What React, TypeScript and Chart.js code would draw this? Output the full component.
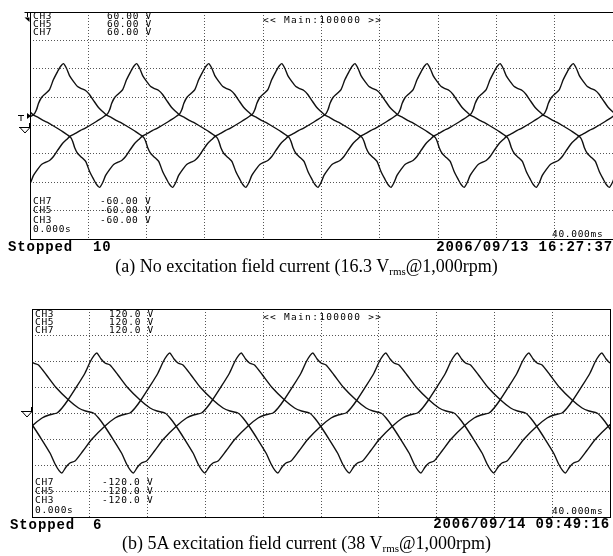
import React, { useEffect, useRef } from "react";
import { Chart, registerables } from "chart.js";
Chart.register(...registerables);

// ---------- Panel (a): no excitation field current ----------
const channelNames = ["CH3", "CH5", "CH7"];
const periodA = 14.98; // ms
const peakTimesA = [2.3, 7.32, 12.27]; // ms, first positive peak of each channel
// one positive half-cycle, relative to the peak (ms, V); negative half is the mirror
const shapeTimeA = [-3.22, -2.88, -2.54, -2.2, -1.99, -1.85, -1.72, -1.51, -1.23, -0.96, -0.69, -0.41, -0.21, 0, 0.21, 0.41, 0.69, 0.96, 1.23, 1.51, 1.78, 2.06, 2.4, 2.68, 2.95, 3.29, 3.64, 3.91, 4.27];
const shapeVoltA = [0, 1.6, 3.2, 5.0, 6.3, 8.4, 11.6, 14.8, 16.9, 19.0, 24.3, 28.5, 31.2, 32.7, 30.1, 26.4, 23.2, 20.6, 19.5, 18.5, 16.4, 13.2, 9.5, 7.4, 5.5, 4.2, 2.6, 1.6, 0];
const voltRangeA = 60;

// ---------- Panel (b): 5A excitation field current ----------
const periodB = 14.95;
const peakTimesB = [4.5, 9.55, 14.5];
const shapeTimeB = [-2.77, -2.42, -2.01, -1.38, -0.83, -0.48, -0.2, 0, 0.28, 0.55, 0.9, 1.45, 2.08, 2.98, 3.67, 4.15, 4.7];
const shapeVoltB = [0, 5.8, 15, 31.2, 46.2, 58.8, 66.5, 69.2, 62.3, 57.7, 55.4, 43.8, 30, 15, 5.8, 2.3, 0];
const voltRangeB = 120;

const timeMax = 40; // ms, 10 divisions of 4 ms

type Pt = { x: number; y: number };

function buildChannel(peak: number, period: number, times: number[], volts: number[]): Pt[] {
  const pts: Pt[] = [];
  const half = period / 2;
  for (let k = -4; k <= 4; k++) {
    const base = peak + k * period;
    for (let i = 0; i < times.length; i++) pts.push({ x: base + times[i], y: volts[i] });
    for (let i = 1; i < times.length - 1; i++) pts.push({ x: base + half + times[i], y: -volts[i] });
  }
  pts.sort((a, b) => a.x - b.x);
  return pts.filter((p) => p.x >= -2 && p.x <= timeMax + 2);
}

const boxPlugin = {
  id: "box",
  afterDraw(chart: any) {
    const { ctx, chartArea } = chart;
    ctx.save();
    ctx.strokeStyle = "#000";
    ctx.lineWidth = 1;
    ctx.strokeRect(
      Math.round(chartArea.left) + 0.5,
      Math.round(chartArea.top) + 0.5,
      Math.round(chartArea.right - chartArea.left),
      Math.round(chartArea.bottom - chartArea.top)
    );
    ctx.restore();
  },
};

function Scope(props: {
  width: number;
  height: number;
  top: number;
  padding: { left: number; top: number; right: number; bottom: number };
  period: number;
  peaks: number[];
  times: number[];
  volts: number[];
  range: number;
}) {
  const ref = useRef<HTMLCanvasElement>(null);
  useEffect(() => {
    if (!ref.current) return;
    const datasets = props.peaks.map((p, i) => ({
      label: channelNames[i],
      data: buildChannel(p, props.period, props.times, props.volts),
      borderColor: "#111",
      borderWidth: 1.4,
      pointRadius: 0,
      tension: 0.2,
      fill: false,
    }));
    const grid = { color: "#555", lineWidth: 1, drawTicks: false, tickLength: 0 };
    const chart = new Chart(ref.current, {
      type: "line",
      data: { datasets },
      options: {
        animation: false,
        responsive: false,
        events: [],
        layout: { padding: props.padding },
        plugins: { legend: { display: false }, tooltip: { enabled: false } },
        scales: {
          x: {
            type: "linear",
            min: 0,
            max: timeMax,
            ticks: { display: false, stepSize: 4 },
            grid,
            border: { display: false, dash: [1, 2] },
          },
          y: {
            type: "linear",
            min: -props.range,
            max: props.range,
            ticks: { display: false, stepSize: props.range / 4 },
            grid,
            border: { display: false, dash: [1, 2] },
          },
        },
      } as any,
      plugins: [boxPlugin],
    });
    return () => chart.destroy();
  }, []);
  return (
    <canvas
      ref={ref}
      width={props.width}
      height={props.height}
      style={{ position: "absolute", left: 0, top: props.top, width: props.width, height: props.height }}
    />
  );
}

const mono: React.CSSProperties = {
  fontFamily: '"DejaVu Sans Mono", monospace',
  fontSize: 9.5,
  letterSpacing: "0.7px",
  lineHeight: "8px",
  color: "#000",
  whiteSpace: "pre",
};
const monoWide: React.CSSProperties = { ...mono, letterSpacing: "1.3px" };
const bold: React.CSSProperties = {
  fontFamily: '"Liberation Mono", "DejaVu Sans Mono", monospace',
  fontWeight: "bold",
  fontSize: 14,
  letterSpacing: "0.9px",
  lineHeight: "14px",
  color: "#000",
  whiteSpace: "pre",
};

function L(p: { x: number; y: number; t: string; s?: React.CSSProperties; right?: boolean }) {
  const st = p.s || mono;
  const lh = parseFloat(String(st.lineHeight));
  const pos: React.CSSProperties = p.right
    ? { position: "absolute", right: 613 - p.x, top: p.y - lh / 2 }
    : { position: "absolute", left: p.x, top: p.y - lh / 2 };
  return <div style={{ ...st, ...pos }}>{p.t}</div>;
}

function Caption(p: { y: number; children: React.ReactNode }) {
  return (
    <div
      style={{
        position: "absolute",
        left: 0,
        width: 613,
        top: p.y - 11,
        textAlign: "center",
        fontFamily: '"Liberation Serif", "Times New Roman", serif',
        fontSize: 18,
        lineHeight: "22px",
        color: "#000",
        whiteSpace: "nowrap",
      }}
    >
      {p.children}
    </div>
  );
}

const sub: React.CSSProperties = { fontSize: 11, verticalAlign: "-3px", lineHeight: 0 };

export default function App() {
  return (
    <div style={{ position: "absolute", left: 0, top: 0, width: 613, height: 556, overflow: "hidden", background: "#fff" }}>
      <Scope
        width={613}
        height={250}
        top={0}
        padding={{ left: 30, top: 12, right: 0, bottom: 11 }}
        period={periodA}
        peaks={peakTimesA}
        times={shapeTimeA}
        volts={shapeVoltA}
        range={voltRangeA}
      />
      <Scope
        width={613}
        height={250}
        top={280}
        padding={{ left: 32, top: 29, right: 3, bottom: 13 }}
        period={periodB}
        peaks={peakTimesB}
        times={shapeTimeB}
        volts={shapeVoltB}
        range={voltRangeB}
      />
      <svg width={613} height={556} style={{ position: "absolute", left: 0, top: 0 }}>
        <g stroke="#000" strokeWidth={1} fill="none">
          <path d="M24.5 12.5 H30 M27.5 12.5 V17" />
          <path d="M18 115.5 H24 M21 115.5 V121" />
          <path d="M19 127.5 H30 M29.5 123 V128 M20 127.5 L25 133 L30 127.5" />
          <path d="M21 411.5 H32 M31.5 407 V412 M22 411.5 L27 417 L32 411.5" />
        </g>
        <g fill="#000">
          <path d="M24.5 17.5 L29.5 17.5 L29.5 22 Z" />
          <path d="M27 113 L27 119 L31 116 Z" />
        </g>
      </svg>

      {/* Panel (a) labels */}
      <L x={33} y={16} t="CH3" />
      <L x={33} y={24} t="CH5" />
      <L x={33} y={32} t="CH7" />
      <L x={107} y={16} t="60.00 V" />
      <L x={107} y={24} t="60.00 V" />
      <L x={107} y={32} t="60.00 V" />
      <L x={263} y={20} t="<< Main:100000 >>" s={monoWide} />
      <L x={33} y={201} t="CH7" />
      <L x={33} y={210} t="CH5" />
      <L x={33} y={220} t="CH3" />
      <L x={33} y={229} t="0.000s" />
      <L x={100} y={201} t="-60.00 V" />
      <L x={100} y={210} t="-60.00 V" />
      <L x={100} y={220} t="-60.00 V" />
      <L x={552} y={234} t="40.000ms" />
      <L x={8} y={247} t="Stopped" s={bold} />
      <L x={93} y={247} t="10" s={bold} />
      <L x={613} y={247} t="2006/09/13 16:27:37" s={bold} right />
      <Caption y={266}>
        (a) No excitation field current (16.3 V<sub style={sub}>rms</sub>@1,000rpm)
      </Caption>

      {/* Panel (b) labels */}
      <L x={35} y={314} t="CH3" />
      <L x={35} y={322} t="CH5" />
      <L x={35} y={330} t="CH7" />
      <L x={109} y={314} t="120.0 V" />
      <L x={109} y={322} t="120.0 V" />
      <L x={109} y={330} t="120.0 V" />
      <L x={263} y={317} t="<< Main:100000 >>" s={monoWide} />
      <L x={35} y={482} t="CH7" />
      <L x={35} y={491} t="CH5" />
      <L x={35} y={500} t="CH3" />
      <L x={35} y={510} t="0.000s" />
      <L x={102} y={482} t="-120.0 V" />
      <L x={102} y={491} t="-120.0 V" />
      <L x={102} y={500} t="-120.0 V" />
      <L x={552} y={511} t="40.000ms" />
      <L x={10} y={525} t="Stopped" s={bold} />
      <L x={93} y={525} t="6" s={bold} />
      <L x={610} y={524} t="2006/09/14 09:49:16" s={bold} right />
      <Caption y={543}>
        (b) 5A excitation field current (38 V<sub style={sub}>rms</sub>@1,000rpm)
      </Caption>
    </div>
  );
}
